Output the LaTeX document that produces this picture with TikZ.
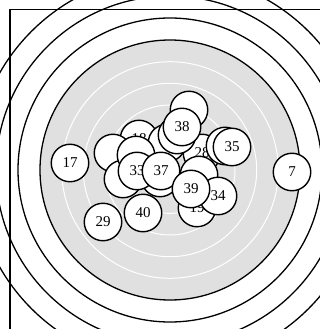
\documentclass[tikz,border=0pt]{standalone}
\usepackage{fontspec}
\setmainfont{Liberation Serif}
\tikzset{
  shot/.style={circle, draw, line width=1.4pt, fill=white, minimum size=37.5pt,
    inner sep=0pt, font=\fontsize{15}{15}\selectfont},
  ring/.style={line width=1.3pt},
  whitering/.style={white, line width=1pt}
}
\begin{document}
\begin{tikzpicture}[x=1pt, y=-1pt, line join=round]
    \useasboundingbox (0,0) rectangle (320,329);
    \clip (0,0) rectangle (320,329);

    % 1. 靶心
    \coordinate (O) at (170,170);

    % 2. 灰色靶区与白色环线
    \fill[gray!24] (O) circle (130pt);
    \foreach \r in {21.7,43.4,65,86.7,108.3}
        \draw[whitering] (O) circle (\r pt);

    % 3. 黑色环线与边框
    \foreach \r in {130,152,174,196}
        \draw[ring] (O) circle (\r pt);
    \draw[ring] (10,340) -- (10,9.5) -- (330,9.5);

    % 4. 被遮住的弹孔
    \node[shot] (h1) at (189,110) {};
    \node[shot] (s28) at (202,153) {28};
    \node[shot] (s18) at (139,139) {18};
    \node[shot] (s19) at (197,208) {19};
    \node[shot] (h2) at (113,153) {};
    \node[shot] (h3) at (167,143) {};
    \node[shot] (h4) at (177,135) {};
    \node[shot] (h5) at (225,146) {};
    \node[shot] (h6) at (123,179) {};
    \node[shot] (h7) at (136,155) {};
    \node[shot] (h8) at (160,178) {};
    \node[shot] (h9) at (199,175) {};

    % 5. 可见的弹孔
    \node[shot] (s33) at (137,171) {33};
    \node[shot] (s38) at (182,127) {38};
    \node[shot] (s35) at (232,147) {35};
    \node[shot] (s34) at (218,196) {34};
    \node[shot] (s37) at (161,171) {37};
    \node[shot] (s39) at (191,189) {39};
    \node[shot] (s40) at (143,213) {40};
    \node[shot] (s29) at (103,222) {29};
    \node[shot] (s17) at (70,163) {17};
    \node[shot] (s7) at (292,172) {7};

\end{tikzpicture}
\end{document}
